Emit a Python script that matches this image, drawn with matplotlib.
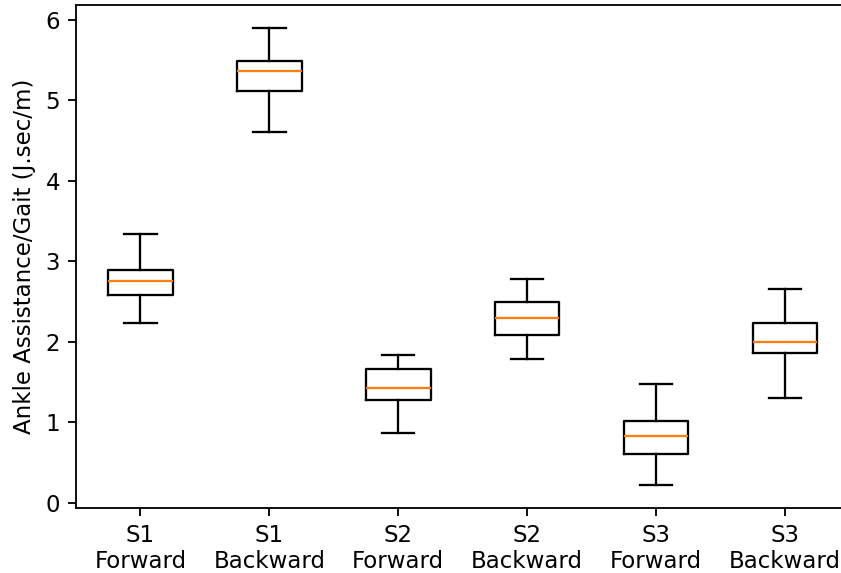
import matplotlib
matplotlib.use("Agg")
import matplotlib.pyplot as plt

labels = ["S1\nForward", "S1\nBackward", "S2\nForward", "S2\nBackward", "S3\nForward", "S3\nBackward"]
whislo = [2.23, 4.61, 0.87, 1.78, 0.22, 1.30]
q1 = [2.58, 5.12, 1.28, 2.08, 0.60, 1.86]
med = [2.76, 5.37, 1.42, 2.29, 0.83, 2.00]
q3 = [2.89, 5.49, 1.66, 2.50, 1.02, 2.23]
whishi = [3.34, 5.90, 1.84, 2.78, 1.47, 2.65]

stats = []
for i in range(len(labels)):
    stats.append({"label": labels[i], "whislo": whislo[i], "q1": q1[i], "med": med[i],
                  "q3": q3[i], "whishi": whishi[i], "fliers": []})

dpi = 165
fig, ax = plt.subplots(figsize=(841 / dpi, 573 / dpi), dpi=dpi)
ax.bxp(stats, showfliers=False)
ax.set_ylabel("Ankle Assistance/Gait (J.sec/m)")
ax.set_yticks(range(7))
# axes runs slightly past the right edge of the canvas
fig.subplots_adjust(left=0.0904, right=1.0101, top=0.9908, bottom=0.114)
fig.savefig("out.png", dpi=dpi)
